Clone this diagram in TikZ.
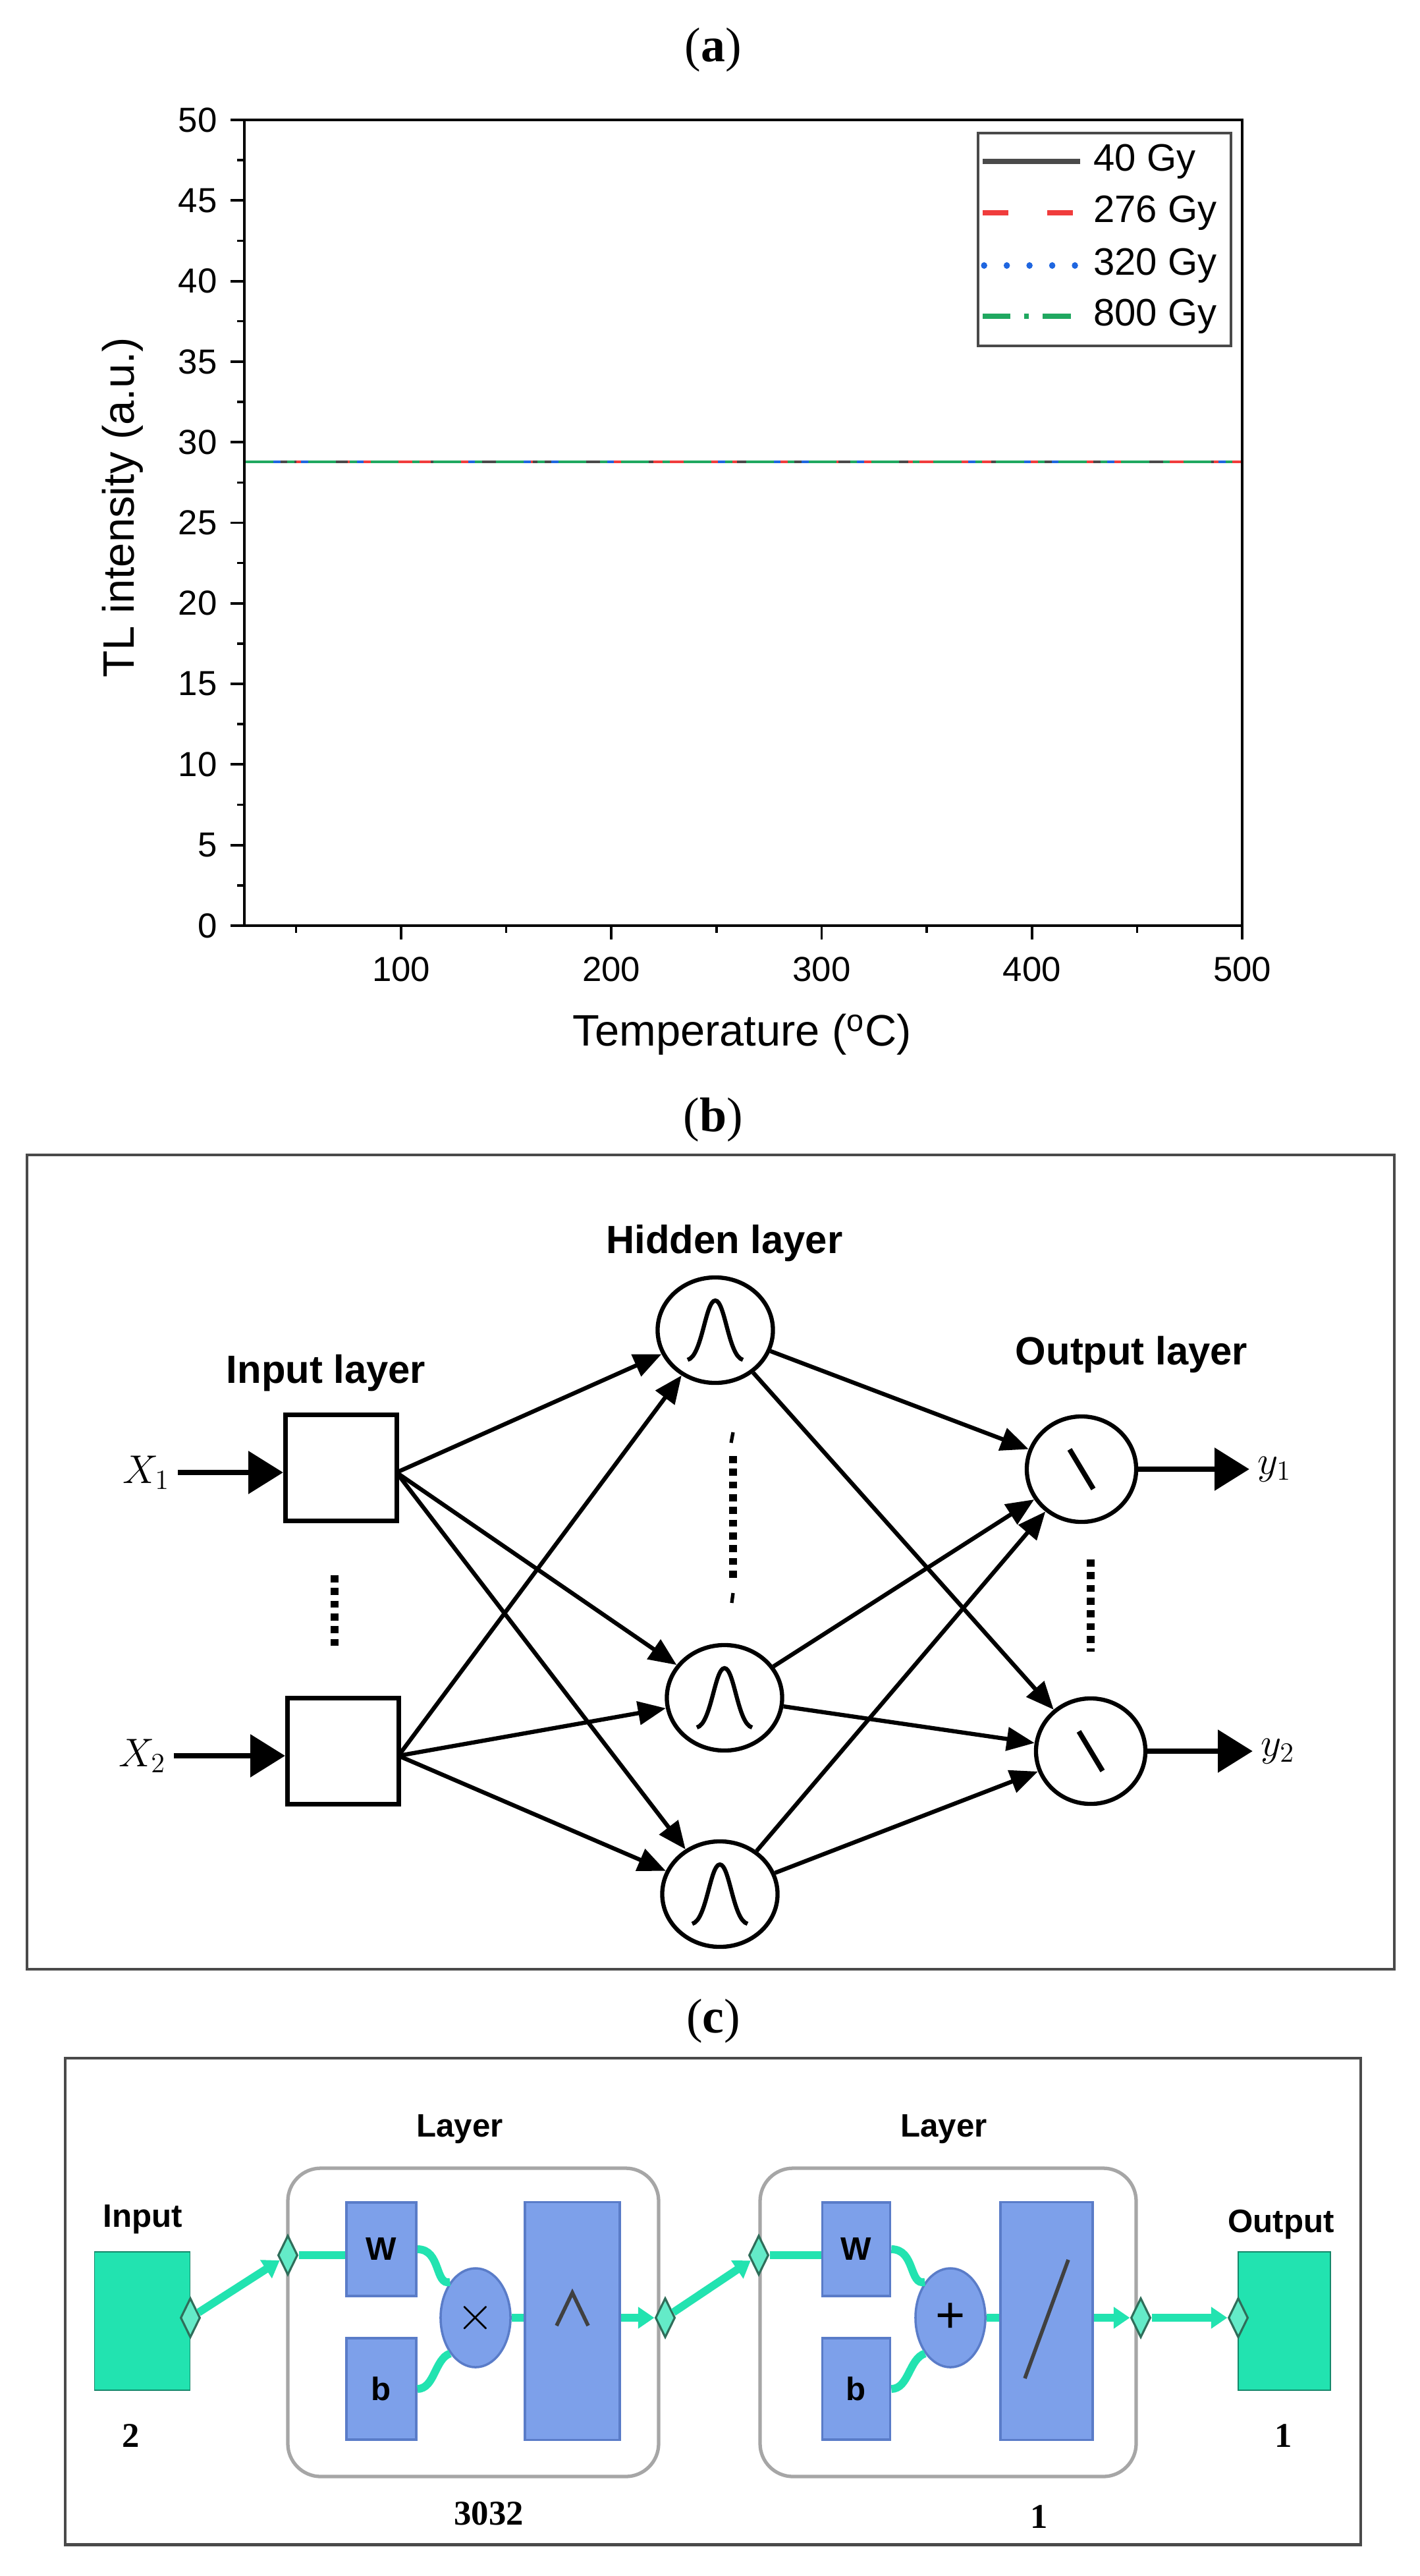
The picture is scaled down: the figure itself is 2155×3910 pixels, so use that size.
\documentclass[tikz,border=0pt]{standalone}
\usepackage{fontspec}
\setmainfont{Liberation Serif}
\newfontfamily\sansf{Liberation Sans}
\usetikzlibrary{arrows.meta,shapes.geometric}
\definecolor{dgray}{HTML}{4A4A4A}
\definecolor{lred}{HTML}{F03C3C}
\definecolor{lblue}{HTML}{1F66E0}
\definecolor{lgreen}{HTML}{20A860}
\definecolor{teal1}{HTML}{22E3B0}
\definecolor{tealdk}{HTML}{2F6E5A}
\definecolor{bfill}{HTML}{7DA0EA}
\definecolor{bdraw}{HTML}{5A7CC8}
\tikzset{
  x=0.01cm,y=-0.01cm,
  title/.style={font=\fontsize{21}{21}\selectfont},
  ticklab/.style={font=\sansf\fontsize{15}{15}\selectfont},
  leglab/.style={font=\sansf\fontsize{16.5}{16.5}\selectfont,anchor=west},
  axlab/.style={font=\sansf\fontsize{19}{19}\selectfont},
  nnlab/.style={font=\sansf\bfseries\fontsize{17}{17}\selectfont},
  arr/.style={line width=1.8pt,-{Triangle[length=12pt,width=10pt]}},
  bigarr/.style={line width=2.4pt,-{Triangle[length=15pt,width=18pt]}},
  inbox/.style={draw,line width=2pt,minimum width=1.69cm,minimum height=1.6cm,inner sep=0},
  neuron/.style={draw,ellipse,line width=1.8pt,minimum width=1.75cm,minimum height=1.6cm,inner sep=0},
  dotsv/.style={line width=3.5pt,dash pattern=on 3pt off 2.5pt},
  gline/.style={teal1,line width=3.4pt},
  garr/.style={teal1,line width=3.4pt,-{Triangle[length=7pt,width=9pt]}},
  diam/.style={draw=tealdk,fill=teal1!70,diamond,minimum width=0.3cm,minimum height=0.6cm,inner sep=0,line width=0.9pt},
  bbox/.style={draw=bdraw,fill=bfill,line width=1pt,inner sep=0},
  clab/.style={font=\sansf\bfseries\fontsize{14}{14}\selectfont},
  numlab/.style={font=\bfseries\fontsize{15}{15}\selectfont},
}
\begin{document}
\begin{tikzpicture}
\useasboundingbox[fill=white] (0,0) rectangle (2155,3910);
% ---------------- (a)
\node[title] (ta) at (1083,76) {(\textbf{a})};
\draw[line width=1.3pt] (371,182) rectangle (1886,1405);
\foreach \v in {0,5,...,50}{
  \draw[line width=1.1pt] (371,1405-24.46*\v) -- (350,1405-24.46*\v);
  \node[ticklab,anchor=east] at (342,1405-24.46*\v) {\v};}
\foreach \v in {2.5,7.5,...,47.5}
  \draw[line width=1pt] (371,1405-24.46*\v) -- (360,1405-24.46*\v);
\foreach \v in {100,200,...,500}{
  \draw[line width=1.1pt] (609+3.1925*\v-319.25,1405) -- (609+3.1925*\v-319.25,1426);
  \node[ticklab,anchor=north] at (609+3.1925*\v-319.25,1440) {\v};}
\foreach \v in {50,150,...,450}
  \draw[line width=1pt] (609+3.1925*\v-319.25,1405) -- (609+3.1925*\v-319.25,1416);
\node[axlab] (xl) at (1127,1570) {Temperature (\textsuperscript{o}C)};
\node[axlab,rotate=90] (yl) at (186,770) {TL intensity (a.u.)};
\coordinate (l0) at (373,701); \coordinate (l1) at (1884,701);
\draw[dgray,line width=1.4pt] (l0) -- (l1);
\draw[lred,line width=1.4pt,dash pattern=on 14pt off 8pt] (l0) -- (l1);
\draw[lblue,line width=1.4pt,dash pattern=on 3pt off 9pt] (l0) -- (l1);
\draw[lgreen,line width=1.4pt,dash pattern=on 12pt off 6pt on 3pt off 6pt] (l0) -- (l1);
\draw[dgray,line width=1pt] (1485,202) rectangle (1869,525);
\draw[dgray,line width=2.2pt] (1492,245) -- (1640,245);
\draw[lred,line width=2.2pt,dash pattern=on 11pt off 17pt] (1492,323) -- (1640,323);
\draw[lblue,line width=2.6pt,line cap=round,dash pattern=on 0.1pt off 9.7pt] (1494,403) -- (1640,403);
\draw[lgreen,line width=2.2pt,dash pattern=on 12pt off 6pt on 2pt off 6pt] (1492,480) -- (1640,480);
\node[leglab] at (1648,245) {40 Gy};
\node[leglab] at (1648,323) {276 Gy};
\node[leglab] at (1648,403) {320 Gy};
\node[leglab] at (1648,480) {800 Gy};
% ---------------- (b)
\node[title] (tb) at (1083,1700) {(\textbf{b})};
\draw[line width=1.4pt,dgray] (41,1753) rectangle (2117,2989);
\node[nnlab] (hl) at (1100,1887) {Hidden layer};
\node[nnlab] (il) at (495,2084) {Input layer};
\node[nnlab] (ol) at (1718,2056) {Output layer};
\node[inbox] (i1) at (518,2228) {};
\node[inbox] (i2) at (521,2658) {};
\node[neuron] (h1) at (1086,2019) {};
\node[neuron] (h2) at (1100,2577) {};
\node[neuron] (h3) at (1093,2875) {};
\node[neuron,minimum width=1.66cm] (o1) at (1642,2230) {};
\node[neuron,minimum width=1.66cm] (o2) at (1656,2658) {};
\node[font=\fontsize{17}{17}\selectfont] (x1) at (222,2235) {$X_1$};
\node[font=\fontsize{17}{17}\selectfont] (x2) at (216,2665) {$X_2$};
\node[font=\fontsize{17}{17}\selectfont] (y1) at (1935,2230) {$y_1$};
\node[font=\fontsize{17}{17}\selectfont] (y2) at (1940,2658) {$y_2$};
\draw[bigarr] (x1.east) -- (i1.west|-x1.east);
\draw[bigarr] (x2.east) -- (i2.west|-x2.east);
\draw[bigarr] (o1.east) -- (y1.west);
\draw[bigarr] (o2.east) -- (y2.west);
\coordinate (i1o) at (602,2235); \coordinate (i2o) at (605,2665);
\foreach \h in {h1,h2,h3}{
  \draw[arr] (i1o) -- (\h);
  \draw[arr] (i2o) -- (\h);
  \draw[arr] (\h) -- (o1);
  \draw[arr] (\h) -- (o2);}
\foreach \h in {h1,h2,h3}
  \draw[line width=1.8pt,shift={(\h.center)}] (-42,45) .. controls (-20,40) and (-15,-45) .. (0,-45) .. controls (15,-45) and (20,40) .. (42,45);
\foreach \o in {o1,o2}
  \draw[line width=2.2pt,shift={(\o.center)}] (-18,-30) -- (18,30);
\draw[dotsv] (508,2391) -- (508,2503);
\draw[dotsv] (1113,2210) -- (1113,2400);
\draw[line width=1.5pt] (1113,2174) -- (1110,2190);
\draw[line width=1.5pt] (1113,2418) -- (1111,2433);
\draw[dotsv] (1656,2367) -- (1656,2507);
% ---------------- (c)
\node[title] (tc) at (1083,3068) {(\textbf{c})};
\draw[line width=1.4pt,dgray,fill=white] (99,3124) rectangle (2066,3862);
\node[clab] (lay1) at (698,3232) {Layer};
\node[clab] (lay2) at (1433,3232) {Layer};
\node[clab] (inl) at (217,3369) {Input};
\node[clab] (outl) at (1945,3376) {Output};
\draw[rounded corners=0.5cm,draw=gray!70,line width=1.5pt,fill=white] (437,3291) rectangle (1000,3759);
\draw[rounded corners=0.5cm,draw=gray!70,line width=1.5pt,fill=white] (1154,3291) rectangle (1725,3759);
\node[draw=teal1!60!black,fill=teal1,minimum width=1.45cm,minimum height=2.1cm,inner sep=0] (inb) at (216,3523) {};
\node[draw=teal1!60!black,fill=teal1,minimum width=1.4cm,minimum height=2.1cm,inner sep=0] (outb) at (1950,3523) {};
\node[bbox,minimum width=1.06cm,minimum height=1.42cm,clab] (w1) at (579,3414) {W};
\node[bbox,minimum width=1.06cm,minimum height=1.54cm,clab] (b1) at (579,3626) {b};
\node[bbox,minimum width=1.03cm,minimum height=1.42cm,clab] (w2) at (1300,3414) {W};
\node[bbox,minimum width=1.03cm,minimum height=1.54cm,clab] (b2) at (1300,3626) {b};
\node[bbox,minimum width=1.44cm,minimum height=3.61cm] (t1) at (869,3523) {};
\node[bbox,minimum width=1.4cm,minimum height=3.61cm] (t2) at (1589,3523) {};
\draw[line width=1.6pt,black!75] (845,3530) -- (869,3480) -- (893,3530);
\draw[line width=1.6pt,black!75] (1556,3610) -- (1622,3430);
\node[bbox,ellipse,minimum width=1.06cm,minimum height=1.5cm,font=\sansf\fontsize{22}{22}\selectfont] (c1) at (722,3518) {$\times$};
\node[bbox,ellipse,minimum width=1.06cm,minimum height=1.5cm,font=\sansf\fontsize{22}{22}\selectfont] (c2) at (1443,3518) {+};
\node[diam] (d0) at (289,3518) {};
\node[diam] (d1) at (437,3423) {};
\node[diam] (d2) at (1010,3518) {};
\node[diam] (d3) at (1152,3423) {};
\node[diam] (d4) at (1732,3518) {};
\node[diam] (d5) at (1880,3518) {};
\draw[garr] (d0) -- (d1);
\draw[gline] (d1) -- (w1.west|-d1);
\draw[gline] (w1.east) .. controls (670,3414) and (660,3470) .. (c1.north west);
\draw[gline] (b1.east) .. controls (660,3626) and (660,3580) .. (c1.south west);
\draw[gline] (c1.east) -- (t1.west|-c1.east);
\draw[garr] (t1.east|-d2) -- (d2);
\draw[garr] (d2) -- (d3);
\draw[gline] (d3) -- (w2.west|-d3);
\draw[gline] (w2.east) .. controls (1390,3414) and (1380,3470) .. (c2.north west);
\draw[gline] (b2.east) .. controls (1380,3626) and (1380,3580) .. (c2.south west);
\draw[gline] (c2.east) -- (t2.west|-c2.east);
\draw[garr] (t2.east|-d4) -- (d4);
\draw[garr] (d4) -- (d5);
\node[numlab] (n2) at (199,3697) {2};
\node[numlab] (n1) at (1949,3697) {1};
\node[numlab] (n3032) at (742,3815) {3032};
\node[numlab] (n1b) at (1578,3820) {1};
\end{tikzpicture}
\end{document}
